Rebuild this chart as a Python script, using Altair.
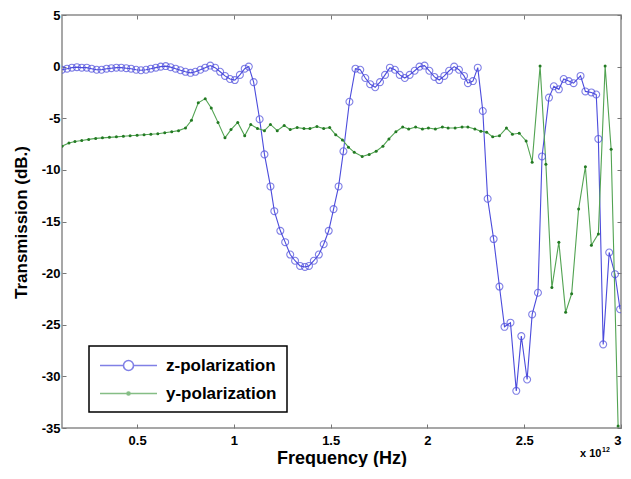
import altair as alt
import pandas as pd

# ---- data ----
z_freq = [0.112, 0.138, 0.163, 0.189, 0.214, 0.240, 0.265, 0.291, 0.316, 0.342,
          0.367, 0.393, 0.418, 0.444, 0.469, 0.495, 0.520, 0.546, 0.571, 0.597,
          0.622, 0.648, 0.673, 0.699, 0.724, 0.750, 0.776, 0.801, 0.827, 0.852,
          0.878, 0.903, 0.929, 0.954, 0.980, 1.005, 1.031, 1.056, 1.077, 1.102,
          1.133, 1.158, 1.189, 1.209, 1.240, 1.265, 1.291, 1.316, 1.342, 1.367,
          1.388, 1.413, 1.439, 1.464, 1.490, 1.515, 1.541, 1.566, 1.597, 1.628,
          1.653, 1.679, 1.704, 1.730, 1.755, 1.781, 1.806, 1.832, 1.857, 1.883,
          1.908, 1.934, 1.959, 1.985, 2.010, 2.036, 2.061, 2.087, 2.112, 2.138,
          2.163, 2.189, 2.209, 2.235, 2.260, 2.286, 2.311, 2.342, 2.372, 2.398,
          2.429, 2.459, 2.485, 2.515, 2.541, 2.571, 2.592, 2.628, 2.653, 2.679,
          2.704, 2.730, 2.755, 2.791, 2.816, 2.847, 2.872, 2.883, 2.908, 2.939,
          2.969, 2.995]
z_db = [-0.3, -0.2, -0.1, -0.05, -0.1, -0.1, -0.2, -0.3, -0.3, -0.2,
        -0.15, -0.1, -0.1, -0.15, -0.2, -0.3, -0.35, -0.3, -0.2, -0.1,
        0.0, 0.05, -0.05, -0.2, -0.35, -0.5, -0.6, -0.5, -0.3, -0.1,
        0.1, -0.1, -0.5, -0.9, -1.2, -1.3, -0.8, -0.2, 0.0, -1.5,
        -5.1, -8.5, -11.6, -14.0, -15.9, -17.0, -18.2, -18.8, -19.3, -19.4,
        -19.3, -18.8, -18.2, -17.2, -15.9, -13.8, -11.6, -8.2, -3.4, -0.2,
        -0.3, -1.1, -1.7, -2.0, -1.5, -0.8, -0.1, -0.3, -0.8, -1.1,
        -0.8, -0.4, 0.0, 0.1, -0.4, -1.0, -1.3, -0.9, -0.4, 0.0,
        -0.3, -0.9, -1.6, -1.4, -0.1, -4.3, -12.8, -16.7, -21.3, -25.2,
        -24.8, -31.4, -26.1, -30.3, -24.0, -21.9, -8.7, -3.0, -1.9, -2.2,
        -1.2, -1.4, -1.6, -0.9, -2.4, -2.5, -2.7, -7.0, -26.9, -18.0,
        -20.1, -23.5]

y_freq = [0.112, 0.148, 0.179, 0.214, 0.250, 0.286, 0.321, 0.357, 0.393, 0.429,
          0.464, 0.500, 0.536, 0.571, 0.607, 0.643, 0.679, 0.714, 0.750, 0.781,
          0.816, 0.852, 0.883, 0.918, 0.954, 0.985, 1.020, 1.056, 1.087, 1.122,
          1.158, 1.189, 1.224, 1.260, 1.291, 1.327, 1.362, 1.393, 1.429, 1.464,
          1.495, 1.526, 1.561, 1.592, 1.622, 1.663, 1.699, 1.735, 1.770, 1.801,
          1.837, 1.872, 1.903, 1.939, 1.974, 2.005, 2.041, 2.077, 2.107, 2.143,
          2.179, 2.209, 2.245, 2.276, 2.306, 2.337, 2.372, 2.408, 2.439, 2.474,
          2.510, 2.541, 2.582, 2.612, 2.643, 2.679, 2.714, 2.745, 2.781, 2.816,
          2.847, 2.883, 2.918, 2.949, 2.985]
y_db = [-7.7, -7.4, -7.25, -7.15, -7.05, -6.95, -6.9, -6.85, -6.8, -6.75,
        -6.7, -6.65, -6.6, -6.55, -6.5, -6.4, -6.3, -6.2, -5.95, -5.2,
        -3.5, -3.1, -4.0, -5.4, -6.9, -6.1, -5.4, -6.7, -5.6, -6.0,
        -6.2, -5.6, -6.2, -5.7, -6.1, -5.9, -6.0, -6.0, -5.8, -6.0,
        -5.9, -6.6, -7.1, -7.8, -8.3, -8.7, -8.5, -8.2, -7.7, -7.0,
        -6.3, -5.85, -6.05, -5.85, -6.05, -5.95, -6.05, -5.85, -5.95, -5.95,
        -5.85, -5.85, -6.05, -6.25, -6.35, -6.8, -6.7, -5.95, -6.55, -6.45,
        -7.2, -9.25, 0.05, -9.45, -21.4, -17.0, -23.8, -22.0, -13.8, -9.7,
        -17.3, -16.2, 0.05, -8.0, -34.8]

series_names = ["z-polarization", "y-polarization"]
x_ticks = [0.5, 1, 1.5, 2, 2.5, 3]
y_ticks = [5, 0, -5, -10, -15, -20, -25, -30, -35]
x_domain = [0.112, 3.0]
y_domain = [-35, 5]

assert len(z_freq) == len(z_db)
assert len(y_freq) == len(y_db)

BLUE = "#4b4bdc"
GREEN_LINE = "#52a352"
GREEN_DOT = "#237a23"
FONT = "Liberation Sans"

df_z = pd.DataFrame({"f": z_freq, "t": z_db, "s": series_names[0]})
df_y = pd.DataFrame({"f": y_freq, "t": y_db, "s": series_names[1]})

xs = alt.Scale(domain=x_domain, nice=False, zero=False)
ys = alt.Scale(domain=y_domain, nice=False, zero=False)
cs = alt.Scale(domain=series_names, range=[BLUE, GREEN_LINE])

lab = dict(labelFont=FONT, labelFontWeight="bold", labelFontSize=13,
           labelColor="black", labelExpr="'' + datum.value")

x_bottom = alt.Axis(orient="bottom", values=x_ticks, offset=-4, tickSize=4,
                    tickColor="#777", domain=False, grid=False, labelPadding=6,
                    labelFlush=True,
                    title="Frequency (Hz)", titleFont=FONT, titleFontWeight="bold",
                    titleFontSize=18, titleColor="black", titleY=39,
                    titleBaseline="alphabetic", **lab)
y_left = alt.Axis(orient="left", values=y_ticks, offset=-4, tickSize=4,
                  tickColor="#777", domain=False, grid=False, labelPadding=2,
                  labelFlush=False,
                  title="Transmission (dB.)", titleFont=FONT, titleFontWeight="bold",
                  titleFontSize=17, titleColor="black", titleX=-40, titleY=207,
                  titleAngle=-90, titleBaseline="alphabetic", **lab)
x_top = alt.Axis(orient="top", values=x_ticks, offset=-4, tickSize=4,
                 tickColor="#777", domain=False, grid=False, labels=False, title=None)
y_right = alt.Axis(orient="right", values=y_ticks, offset=-4, tickSize=4,
                   tickColor="#777", domain=False, grid=False, labels=False, title=None)

z_line = alt.Chart(df_z).mark_line(strokeWidth=1.1, clip=True, color=BLUE).encode(
    x=alt.X("f:Q", scale=xs, axis=x_bottom),
    y=alt.Y("t:Q", scale=ys, axis=y_left),
)
y_line = alt.Chart(df_y).mark_line(strokeWidth=1.1, clip=True, color=GREEN_LINE).encode(
    x=alt.X("f:Q", scale=xs, axis=x_top),
    y=alt.Y("t:Q", scale=ys, axis=y_right),
)
z_pts = alt.Chart(df_z).mark_point(shape="circle", filled=False, size=48,
                                   strokeWidth=1.1, color=BLUE, clip=True).encode(
    x=alt.X("f:Q", scale=xs, axis=None),
    y=alt.Y("t:Q", scale=ys, axis=None),
)
y_pts = alt.Chart(df_y).mark_point(shape="circle", filled=True, size=9, opacity=1,
                                   color=GREEN_DOT, clip=True).encode(
    x=alt.X("f:Q", scale=xs, axis=None),
    y=alt.Y("t:Q", scale=ys, axis=None),
)

# legend symbols: line with a marker (custom paths, unit = half of sqrt(symbolSize))
path_z = ("M-3.35,0L-0.59,0M0.59,0L3.35,0"
          "M-0.59,0A0.59,0.59 0 1,0 0.59,0A0.59,0.59 0 1,0 -0.59,0")
path_y = ("M-3.35,0L3.35,0"
          "M-0.18,0A0.18,0.18 0 1,0 0.18,0A0.18,0.18 0 1,0 -0.18,0")

# legend-only rows: series names, no coordinates (nothing is drawn in the plot)
legend_df = pd.DataFrame({"s": series_names, "f": [None, None], "t": [None, None]})

legend_layer = alt.Chart(legend_df).mark_point(
    filled=False, strokeWidth=1.6
).encode(
    x=alt.X("f:Q", scale=xs, axis=None),
    y=alt.Y("t:Q", scale=ys, axis=None),
    color=alt.Color("s:N", scale=cs, title=None,
                    legend=alt.Legend(orient="none", legendX=27, legendY=331)),
    shape=alt.Shape("s:N", scale=alt.Scale(domain=series_names, range=[path_z, path_y]),
                    title=None),
)

note_df = pd.DataFrame({"txt": ["x 10"], "sup": ["12"]})
note = alt.Chart(note_df).mark_text(
    font=FONT, fontWeight="bold", fontSize=11, align="left", baseline="middle",
    color="black"
).encode(text="txt:N", x=alt.value(518), y=alt.value(439))
note_sup = alt.Chart(note_df).mark_text(
    font=FONT, fontWeight="bold", fontSize=7, align="left", baseline="middle",
    color="black"
).encode(text="sup:N", x=alt.value(540), y=alt.value(435))

chart = alt.layer(z_line, y_line, z_pts, y_pts, legend_layer, note, note_sup).resolve_axis(
    x="independent", y="independent"
).properties(
    width=559, height=413,
    autosize=alt.AutoSizeParams(type="none"),
    padding={"left": 54, "top": 7, "right": 2, "bottom": 39},
    background="white",
).configure_view(
    stroke="#8a8a8a", strokeWidth=1.5
).configure_legend(
    symbolSize=289, symbolStrokeWidth=1.6, symbolOffset=20,
    labelFont=FONT, labelFontWeight="bold",
    labelFontSize=17, labelColor="black", labelOffset=28, strokeColor="black",
    strokeWidth=1.5, fillColor="white", padding=10, rowPadding=10,
)

chart.save("out.html", embed_options={"renderer": "svg", "actions": False})
